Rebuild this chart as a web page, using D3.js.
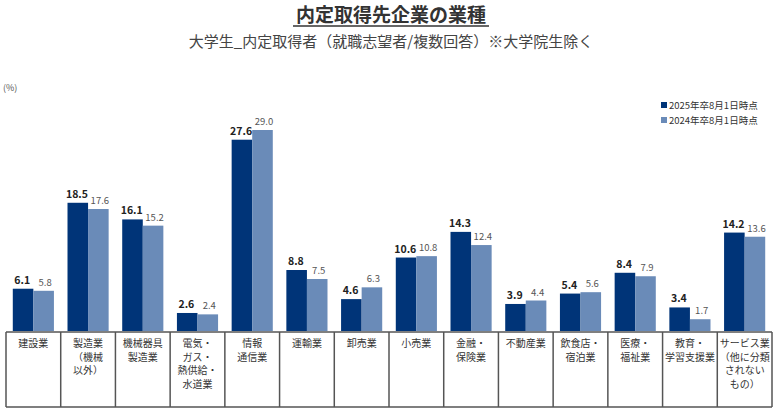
<!DOCTYPE html>
<html>
<head>
<meta charset="utf-8">
<script src="https://cdn.jsdelivr.net/npm/d3@7"></script>
<style>
    body { margin: 0; background: #fff; }
    svg { font-family: "Noto Sans CJK JP", "Noto Sans", sans-serif; }
</style>
</head>
<body>
<svg id="chart"></svg>
<script>
// categories (line breaks as in the table cells)
const categories = [
    ["建設業"],
    ["製造業", "（機械", "以外）"],
    ["機械器具", "製造業"],
    ["電気・", "ガス・", "熱供給・", "水道業"],
    ["情報", "通信業"],
    ["運輸業"],
    ["卸売業"],
    ["小売業"],
    ["金融・", "保険業"],
    ["不動産業"],
    ["飲食店・", "宿泊業"],
    ["医療・", "福祉業"],
    ["教育・", "学習支援業"],
    ["サービス業", "（他に分類", "されない", "もの）"]
];
const series = ["2025年卒8月1日時点", "2024年卒8月1日時点"];
const values2025 = [6.1, 18.5, 16.1, 2.6, 27.6, 8.8, 4.6, 10.6, 14.3, 3.9, 5.4, 8.4, 3.4, 14.2];
const values2024 = [5.8, 17.6, 15.2, 2.4, 29.0, 7.5, 6.3, 10.8, 12.4, 4.4, 5.6, 7.9, 1.7, 13.6];

const width = 781, height = 414;
const colors = ["#003478", "#6a8bb8"];

const svg = d3.select("#chart")
    .attr("width", width)
    .attr("height", height);

// table rows
const data = categories.map((c, i) => ({
    key: i,
    lines: c,
    vals: [values2025[i], values2024[i]]
}));

const x = d3.scaleBand()
    .domain(d3.range(categories.length))
    .range([6, 772])
    .padding(0);

const x1 = d3.scaleBand()
    .domain([0, 1])
    .range([0, x.bandwidth()])
    .paddingInner(0)
    .paddingOuter(0.33);

const y = d3.scaleLinear()
    .domain([0, 29])
    .range([331, 130]);

// title
svg.append("text")
    .attr("x", 391)
    .attr("y", 22)
    .attr("text-anchor", "middle")
    .style("font-size", "19px")
    .style("font-weight", "bold")
    .attr("fill", "#333")
    .text("内定取得先企業の業種");
svg.append("line")
    .attr("x1", 293).attr("x2", 489)
    .attr("y1", 26).attr("y2", 26)
    .attr("stroke", "#333")
    .attr("stroke-width", 1.5);

svg.append("text")
    .attr("x", 391)
    .attr("y", 47)
    .attr("text-anchor", "middle")
    .style("font-size", "15px")
    .attr("fill", "#444")
    .text("大学生_内定取得者（就職志望者/複数回答）※大学院生除く");

// unit
svg.append("text")
    .attr("x", 3)
    .attr("y", 91)
    .style("font-size", "9px")
    .attr("fill", "#555")
    .text("(%)");

// bars
const groups = svg.append("g")
    .selectAll("g")
    .data(data)
    .join("g")
    .attr("transform", d => `translate(${x(d.key)},0)`);

groups.selectAll("rect")
    .data(d => d.vals.map((v, j) => ({ j, v })))
    .join("rect")
    .attr("x", d => x1(d.j))
    .attr("y", d => y(d.v))
    .attr("width", x1.bandwidth())
    .attr("height", d => y(0) - y(d.v))
    .attr("fill", d => colors[d.j]);

// value labels, nudged apart a little so neighbours don't collide
groups.selectAll("text.val")
    .data(d => d.vals.map((v, j) => ({ j, v })))
    .join("text")
    .attr("class", "val")
    .attr("x", d => x1(d.j) + x1.bandwidth() / 2 + (d.j === 0 ? -0.8 : 1.5))
    .attr("y", d => y(d.v) - 5)
    .attr("text-anchor", "middle")
    .style("font-size", d => d.j === 0 ? "10.5px" : "9.5px")
    .style("font-weight", d => d.j === 0 ? "bold" : "normal")
    .attr("fill", d => d.j === 0 ? "#222" : "#555")
    .text(d => d.v.toFixed(1));

// category table under the baseline
const table = svg.append("g");
const tTop = 332, tBottom = 407;
table.append("line")
    .attr("x1", x.range()[0]).attr("x2", x.range()[1])
    .attr("y1", tTop).attr("y2", tTop)
    .attr("stroke", "#555").attr("stroke-width", 1.5);
table.append("line")
    .attr("x1", x.range()[0]).attr("x2", x.range()[1])
    .attr("y1", tBottom).attr("y2", tBottom)
    .attr("stroke", "#555").attr("stroke-width", 1.5);
table.selectAll("line.div")
    .data(d3.range(categories.length + 1))
    .join("line")
    .attr("class", "div")
    .attr("x1", i => i < categories.length ? x(i) : x.range()[1])
    .attr("x2", i => i < categories.length ? x(i) : x.range()[1])
    .attr("y1", tTop).attr("y2", tBottom)
    .attr("stroke", "#555").attr("stroke-width", 1.5);

groups.append("text")
    .attr("text-anchor", "middle")
    .style("font-size", "10px")
    .attr("fill", "#333")
    .selectAll("tspan")
    .data(d => d.lines)
    .join("tspan")
    .attr("x", x.bandwidth() / 2)
    .attr("y", (d, i) => 347 + i * 13.7)
    .text(d => d);

// legend
const legend = svg.append("g")
    .selectAll("g")
    .data(series)
    .join("g")
    .attr("transform", (d, i) => `translate(661,${102 + i * 15})`);
legend.append("rect")
    .attr("width", 6).attr("height", 6)
    .attr("fill", (d, i) => colors[i]);
legend.append("text")
    .attr("x", 8)
    .attr("y", 6.5)
    .style("font-size", "9.5px")
    .attr("fill", "#333")
    .text(d => d);
</script>
</body>
</html>
